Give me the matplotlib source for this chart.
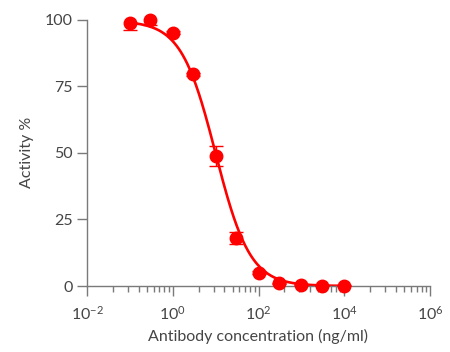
import numpy as np
import matplotlib
matplotlib.use("Agg")
import matplotlib.pyplot as plt
from matplotlib.ticker import FixedLocator, FixedFormatter, NullFormatter

plt.rcParams['font.family'] = ['Lato', 'DejaVu Sans']
plt.rcParams['mathtext.fontset'] = 'custom'
plt.rcParams['mathtext.rm'] = 'Lato'
plt.rcParams['mathtext.it'] = 'Lato'

# antibody concentration (ng/ml) and measured activity (%)
conc = [0.1, 0.3, 1, 3, 10, 30, 100, 300, 1000, 3000, 10000]
activity = [98.6, 100.0, 95.0, 79.4, 48.8, 17.9, 5.0, 1.0, 0.4, 0.1, 0.1]
err = [2.5, 2.1, 0.5, 0.5, 3.6, 2.2, 0.5, 0.3, 0.2, 0.2, 0.2]

# 4PL fit parameters
top, bottom, ic50, hill = 99.5, 0.0, 10.0, 1.08

x_ticks = [1e-2, 1e0, 1e2, 1e4, 1e6]
x_ticklabels = ['$10^{-2}$', '$10^{0}$', '$10^{2}$', '$10^{4}$', '$10^{6}$']
y_ticks = [0, 25, 50, 75, 100]

red = '#ff0000'
gray = '#7a7a7a'
text_col = '#454545'

fig = plt.figure(figsize=(4.5, 3.52), dpi=100)
ax = fig.add_axes([87 / 450, 66 / 352, 343 / 450, 266.5 / 352])

xs = np.logspace(np.log10(conc[0]), np.log10(conc[-1]), 300)
fit = bottom + (top - bottom) / (1 + (xs / ic50) ** hill)
ax.plot(xs, fit, color=red, lw=1.9, clip_on=False, zorder=2)

# error bars are clipped at the axes box, the dots are not
ax.errorbar(conc, activity, yerr=err, fmt='none', ecolor=red, elinewidth=1.0,
            capsize=5, capthick=1.0, zorder=3)
ax.plot(conc, activity, 'o', color=red, ms=9, clip_on=False, zorder=4)

ax.set_xscale('log')
ax.set_xlim(1e-2, 1e6)
ax.set_ylim(0, 100)

ax.xaxis.set_major_locator(FixedLocator(x_ticks))
ax.xaxis.set_major_formatter(FixedFormatter(x_ticklabels))
minor = [10 ** (d + 2 * np.log10(k)) for d in (-2, 0, 2, 4) for k in range(2, 10)]
ax.xaxis.set_minor_locator(FixedLocator(minor))
ax.xaxis.set_minor_formatter(NullFormatter())
ax.set_yticks(y_ticks)

for s in ('top', 'right'):
    ax.spines[s].set_visible(False)
for s in ('left', 'bottom'):
    ax.spines[s].set_color(gray)
    ax.spines[s].set_linewidth(1.0)

ax.tick_params(axis='both', which='major', length=7.2, width=1.0, color=gray,
               labelcolor=text_col, labelsize=11.5)
ax.tick_params(axis='x', which='major', pad=6)
ax.tick_params(axis='y', which='major', pad=3)
ax.tick_params(axis='x', which='minor', length=4.6, width=1.0, color=gray)

ax.set_xlabel('Antibody concentration (ng/ml)', fontsize=11.5, color=text_col, labelpad=5)
ax.set_ylabel('Activity %', fontsize=11.5, color=text_col, labelpad=8)

fig.savefig('out.png', dpi=100)
